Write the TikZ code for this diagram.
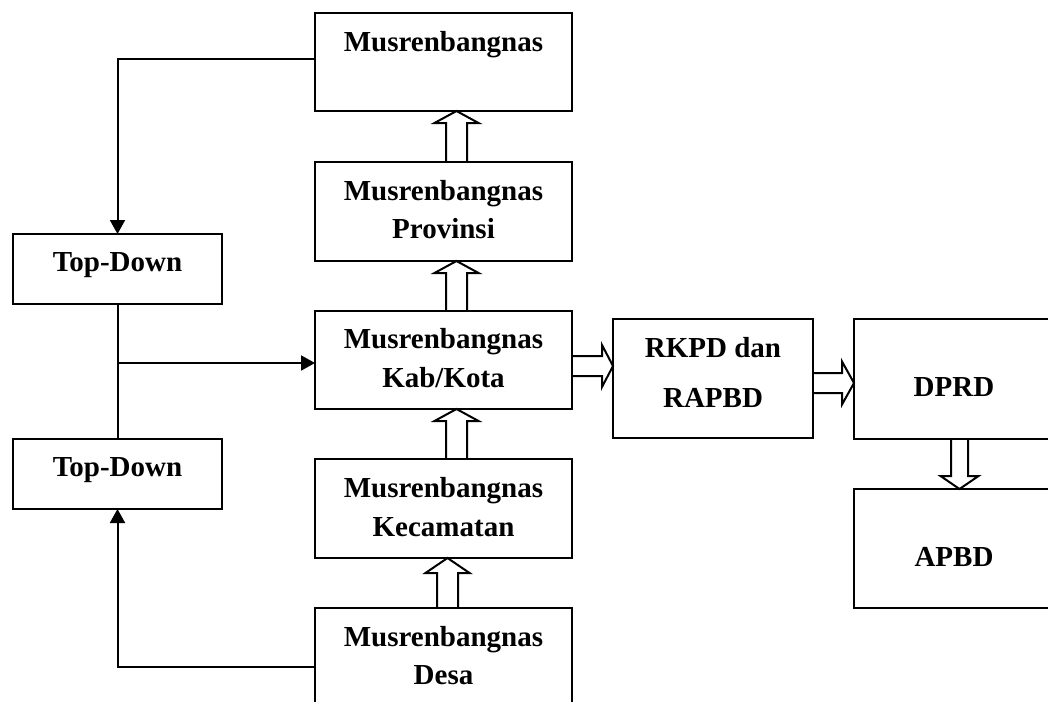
\documentclass[tikz,border=0pt]{standalone}
\usepackage{fontspec}
\setmainfont{Liberation Serif}
\usetikzlibrary{calc,arrows.meta}
\tikzset{
  box/.style={draw, line width=1pt, inner sep=0pt, outer sep=0pt, fill=none},
  lbl/.style={anchor=base, inner sep=0pt, font=\fontsize{14.5}{18}\selectfont\bfseries},
  blk/.style={draw, line width=1pt, line join=miter},
  arr/.style={draw, line width=1pt, -{Triangle[length=7pt,width=7.5pt]}},
  ln/.style={draw, line width=1pt}
}
\newcommand\blkup[6]{\draw[blk] let \p1=(#1), \p2=(#2) in
  (\x1+#3-#4,\y1) -- (\x1+#3-#4,\y2-#6) -- (\x1+#3-#5,\y2-#6) -- (\x1+#3,\y2)
  -- (\x1+#3+#5,\y2-#6) -- (\x1+#3+#4,\y2-#6) -- (\x1+#3+#4,\y1);}
\newcommand\blkdown[6]{\draw[blk] let \p1=(#1), \p2=(#2) in
  (\x1+#3-#4,\y1) -- (\x1+#3-#4,\y2+#6) -- (\x1+#3-#5,\y2+#6) -- (\x1+#3,\y2)
  -- (\x1+#3+#5,\y2+#6) -- (\x1+#3+#4,\y2+#6) -- (\x1+#3+#4,\y1);}
\newcommand\blkright[6]{\draw[blk] let \p1=(#1), \p2=(#2) in
  (\x1,\y1+#3+#4) -- (\x2-#6,\y1+#3+#4) -- (\x2-#6,\y1+#3+#5) -- (\x2,\y1+#3)
  -- (\x2-#6,\y1+#3-#5) -- (\x2-#6,\y1+#3-#4) -- (\x1,\y1+#3-#4);}
\begin{document}
\begin{tikzpicture}[x=0.5pt,y=-0.5pt]
\useasboundingbox (0,0) rectangle (1048,701);
% boxes
\node[box, minimum width=128.5pt, minimum height=49pt]   (mn)   at (443.5,62) {};
\node[box, minimum width=128.5pt, minimum height=49.5pt] (prov) at (443.5,211.5) {};
\node[box, minimum width=128.5pt, minimum height=49pt]   (kab)  at (443.5,360) {};
\node[box, minimum width=128.5pt, minimum height=49.5pt] (kec)  at (443.5,508.5) {};
\node[box, minimum width=128.5pt, minimum height=49pt]   (desa) at (443.5,657) {};
\node[box, minimum width=104.5pt, minimum height=35pt]   (td1)  at (117.5,269) {};
\node[box, minimum width=104.5pt, minimum height=35pt]   (td2)  at (117.5,474) {};
\node[box, minimum width=100pt, minimum height=59.5pt]   (rkpd) at (713,378.5) {};
\node[box, minimum width=100pt, minimum height=60pt]     (dprd) at (954,379) {};
\node[box, minimum width=100pt, minimum height=59.5pt]   (apbd) at (954,548.5) {};
% texts
\node[lbl] (t1)  at (443.5,52)  {Musrenbangnas};
\node[lbl] (t2a) at (443.5,200) {Musrenbangnas};
\node[lbl] (t2b) at (443.5,238) {Provinsi};
\node[lbl] (t3a) at (443.5,348) {Musrenbangnas};
\node[lbl] (t3b) at (443.5,387) {Kab/Kota};
\node[lbl] (t4a) at (443.5,497) {Musrenbangnas};
\node[lbl] (t4b) at (443.5,536) {Kecamatan};
\node[lbl] (t5a) at (443.5,646) {Musrenbangnas};
\node[lbl] (t5b) at (443.5,684) {Desa};
\node[lbl] (t6)  at (117.5,271) {Top-Down};
\node[lbl] (t7)  at (117.5,476) {Top-Down};
\node[lbl] (t8a) at (713,357)   {RKPD dan};
\node[lbl] (t8b) at (713,407)   {RAPBD};
\node[lbl] (t9)  at (954,396)   {DPRD};
\node[lbl] (t10) at (954,566)   {APBD};
% block arrows
\blkup{prov.north}{mn.south}{6.5pt}{5.25pt}{11pt}{6pt}
\blkup{kab.north}{prov.south}{6.5pt}{5.25pt}{11pt}{6pt}
\blkup{kec.north}{kab.south}{6.5pt}{5.25pt}{11pt}{6pt}
\blkup{desa.north}{kec.south}{2pt}{5.25pt}{11pt}{7.5pt}
\blkright{kab.east}{rkpd.west}{-3pt}{5pt}{10.5pt}{5.5pt}
\blkright{rkpd.east}{dprd.west}{-2.25pt}{5pt}{10.75pt}{6pt}
\blkdown{dprd.south}{apbd.north}{2.75pt}{4.25pt}{9.5pt}{6.5pt}
% line connectors
\draw[arr] ($(mn.west)+(0,-3)$) -| (td1.north);
\draw[ln] (td1.south) -- (td2.north);
\coordinate (j) at ($(td1.south |- kab.west)+(0,3)$);
\draw[arr] (j) -- (j -| kab.west);
\draw[arr] ($(desa.west)+(0,10)$) -| (td2.south);
\end{tikzpicture}
\end{document}
